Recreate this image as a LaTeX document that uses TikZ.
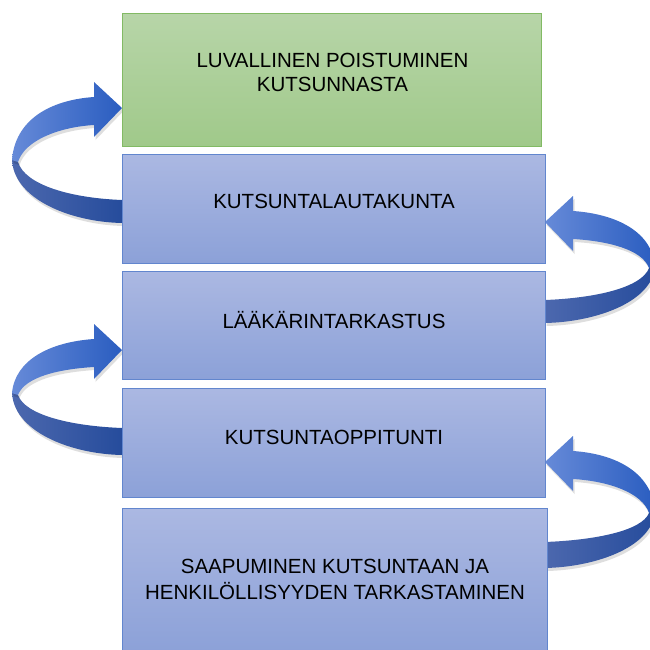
\documentclass[tikz,border=0pt]{standalone}
\usepackage{fontspec}
\setmainfont{Liberation Sans}
\usetikzlibrary{shadows}

\definecolor{gtop}{RGB}{183,213,168}
\definecolor{gbot}{RGB}{160,201,138}
\definecolor{gline}{RGB}{130,186,100}
\definecolor{btop}{RGB}{171,184,226}
\definecolor{bbot}{RGB}{140,161,216}
\definecolor{bline}{RGB}{98,134,206}
\definecolor{aul}{RGB}{102,138,216}
\definecolor{aur}{RGB}{42,93,192}
\definecolor{all}{RGB}{76,104,174}
\definecolor{alr}{RGB}{38,76,156}

% #1 box edge x, #2 direction (-1 left, +1 right), #3 tip y,
% #4 fold offset, #5 band top offset, #6 band bottom offset
\newcommand\ribbonarrow[6]{%
  \path[lowerband]
    ({#1+#2*110},{#3+#4-4}) .. controls ({#1+#2*110},{#3+#4+0.6*(#6-#4)}) and ({#1+#2*52},{#3+#6-1}) .. ({#1},{#3+#6})
    -- ({#1},{#3+#5}) .. controls ({#1+#2*52},{#3+#5-2}) and ({#1+#2*97},{#3+#4+0.6*(#5-#4)}) .. ({#1+#2*104},{#3+#4})
    -- cycle;
  \path[upperband]
    ({#1},{#3}) -- ({#1+#2*28},{#3-26}) -- ({#1+#2*28},{#3-11})
    .. controls ({#1+#2*72},{#3-8}) and ({#1+#2*107},{#3+0.22*#4}) .. ({#1+#2*110},{#3+#4-2})
    -- ({#1+#2*104},{#3+#4})
    .. controls ({#1+#2*97},{#3+0.59*#4}) and ({#1+#2*62},{#3+19}) .. ({#1+#2*28},{#3+17})
    -- ({#1+#2*28},{#3+29}) -- cycle;
}

\begin{document}
\begin{tikzpicture}[x=1pt,y=-1pt,
  gbox/.style={draw=gline, line width=1pt, top color=gtop, bottom color=gbot, inner sep=0pt},
  bbox/.style={draw=bline, line width=1pt, top color=btop, bottom color=bbot, inner sep=0pt},
  lbl/.style={anchor=base, inner sep=0pt, font=\fontsize{20.5}{24}\selectfont, text=black},
  lowerband/.style={left color=all, right color=alr,
    drop shadow={shadow xshift=1.5pt, shadow yshift=-3pt, opacity=0.13, fill=black}},
  upperband/.style={left color=aul, right color=aur,
    drop shadow={shadow xshift=1.5pt, shadow yshift=-3pt, opacity=0.13, fill=black}}]
\useasboundingbox (0,0) rectangle (650,650);

% curved arrows
\ribbonarrow{122}{-1}{108}{54}{92}{115}
\ribbonarrow{545}{1}{222}{46}{78}{101}
\ribbonarrow{122}{-1}{350}{45}{78}{105}
\ribbonarrow{545}{1}{462}{51}{80}{106}

% boxes
\node[gbox, minimum width=419pt, minimum height=132pt] (b1) at (331.5,80) {};
\node[bbox, minimum width=423pt, minimum height=109pt] (b2) at (333.5,208.5) {};
\node[bbox, minimum width=423pt, minimum height=108pt] (b3) at (333.5,325) {};
\node[bbox, minimum width=423pt, minimum height=109pt] (b4) at (333.5,442.5) {};
\node[bbox, minimum width=425pt, minimum height=144pt] (b5) at (334.5,580) {};

% labels
\node[lbl] (t1a) at (332.5,68) {LUVALLINEN POISTUMINEN};
\node[lbl] (t1b) at (332.5,92) {KUTSUNNASTA};
\node[lbl] (t2) at (334,208) {KUTSUNTALAUTAKUNTA};
\node[lbl] (t3) at (334,328) {LÄÄKÄRINTARKASTUS};
\node[lbl] (t4) at (334,444) {KUTSUNTAOPPITUNTI};
\node[lbl] (t5a) at (335,573) {SAAPUMINEN KUTSUNTAAN JA};
\node[lbl] (t5b) at (335,599) {HENKILÖLLISYYDEN TARKASTAMINEN};
\end{tikzpicture}
\end{document}
